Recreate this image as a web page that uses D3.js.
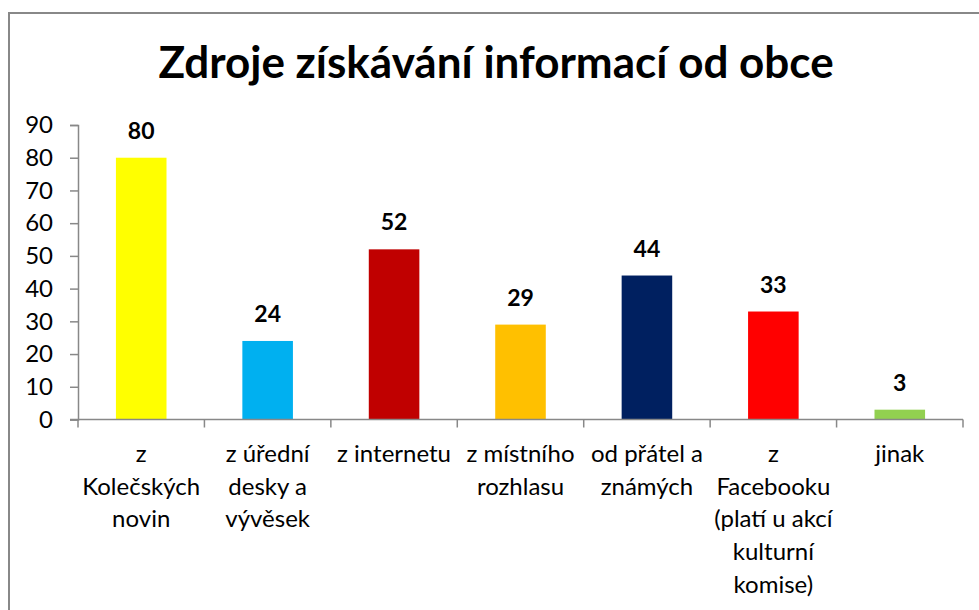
<!DOCTYPE html>
<html>
<head>
<meta charset="utf-8">
<script src="https://cdnjs.cloudflare.com/ajax/libs/d3/7.8.5/d3.min.js"></script>
<style>
  body { margin: 0; background: #ffffff; }
  text { font-family: Lato, "Open Sans", sans-serif; fill: #000000; }
</style>
</head>
<body>
<div id="chart"></div>
<script>
// data
var categories = [
    ["z", "Kolečských", "novin"],
    ["z úřední", "desky a", "vývěsek"],
    ["z internetu"],
    ["z místního", "rozhlasu"],
    ["od přátel a", "známých"],
    ["z", "Facebooku", "(platí u akcí", "kulturní", "komise)"],
    ["jinak"]
];
var values = [80, 24, 52, 29, 44, 33, 3];
var barColors = ["#ffff00", "#00b0f0", "#c00000", "#ffc000", "#002060", "#ff0000", "#92d050"];
var yTicks = [0, 10, 20, 30, 40, 50, 60, 70, 80, 90];
var title = "Zdroje získávání informací od obce";

var width = 979, height = 610;

var svg = d3.select("#chart")
    .append("svg")
    .attr("width", width)
    .attr("height", height);

// chart border (right and bottom edges fall outside the picture)
svg.append("rect")
    .attr("x", 9)
    .attr("y", 13)
    .attr("width", 1000)
    .attr("height", 700)
    .attr("fill", "none")
    .attr("stroke", "#888888")
    .attr("stroke-width", 2);

svg.append("text")
    .attr("x", 496)
    .attr("y", 78)
    .attr("text-anchor", "middle")
    .attr("font-size", "44px")
    .attr("font-weight", 700)
    .text(title);

var x = d3.scaleBand()
    .domain(d3.range(categories.length))
    .range([78, 963])
    .paddingInner(0.6)
    .paddingOuter(0.3);

var xTicks = d3.scaleBand()
    .domain(d3.range(categories.length))
    .range([78, 963]);

var y = d3.scaleLinear()
    .domain([0, 90])
    .range([419.5, 125]);

// y axis
var yAxis = svg.append("g")
    .attr("transform", "translate(78,0)")
    .call(d3.axisLeft(y).tickValues(yTicks).tickSize(8).tickPadding(17));

yAxis.select(".domain").attr("stroke", "#888888").attr("stroke-width", 1.5);
yAxis.selectAll(".tick line").attr("stroke", "#888888").attr("stroke-width", 1.5);
yAxis.selectAll(".tick text")
    .attr("font-size", "24px")
    .attr("font-family", "Lato, sans-serif")
    .attr("fill", "#000000");

// bars
svg.selectAll(".bar")
    .data(values)
    .enter()
    .append("rect")
    .attr("class", "bar")
    .attr("x", function (d, i) { return x(i); })
    .attr("y", function (d) { return y(d); })
    .attr("width", x.bandwidth())
    .attr("height", function (d) { return y(0) - y(d); })
    .attr("fill", function (d, i) { return barColors[i]; });

// x axis line and category tick marks
svg.append("line")
    .attr("x1", 70)
    .attr("x2", 963)
    .attr("y1", y(0))
    .attr("y2", y(0))
    .attr("stroke", "#888888")
    .attr("stroke-width", 1.5);

var tickPos = d3.range(categories.length).map(function (i) { return xTicks(i); });
tickPos.push(963);

svg.selectAll(".xtick")
    .data(tickPos)
    .enter()
    .append("line")
    .attr("class", "xtick")
    .attr("x1", function (d) { return d; })
    .attr("x2", function (d) { return d; })
    .attr("y1", y(0))
    .attr("y2", y(0) + 8)
    .attr("stroke", "#888888")
    .attr("stroke-width", 1.5);

// value labels
svg.selectAll(".value")
    .data(values)
    .enter()
    .append("text")
    .attr("class", "value")
    .attr("x", function (d, i) { return x(i) + x.bandwidth() / 2; })
    .attr("y", function (d) { return y(d) - 19; })
    .attr("text-anchor", "middle")
    .attr("font-size", "23px")
    .attr("font-weight", 700)
    .text(function (d) { return d; });

// category labels
var catLabel = svg.selectAll(".cat")
    .data(categories)
    .enter()
    .append("text")
    .attr("class", "cat")
    .attr("text-anchor", "middle")
    .attr("font-size", "24px");

catLabel.selectAll("tspan")
    .data(function (d, i) {
        return d.map(function (line) { return { line: line, i: i }; });
    })
    .enter()
    .append("tspan")
    .attr("x", function (d) { return xTicks(d.i) + xTicks.bandwidth() / 2; })
    .attr("y", function (d, j) { return 462 + j * 32.7; })
    .text(function (d) { return d.line; });
</script>
</body>
</html>
